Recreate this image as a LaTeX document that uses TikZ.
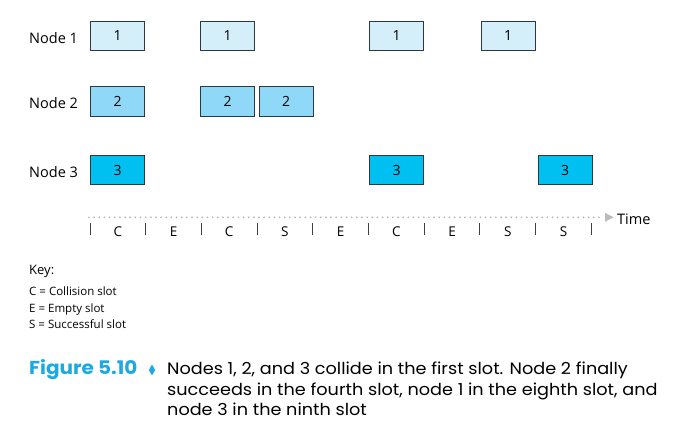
\documentclass[tikz,border=0pt]{standalone}
\usepackage{fontspec}
\setmainfont{Open Sans}
\newfontfamily\capfont[FakeStretch=1.07]{Poppins}
\usetikzlibrary{positioning,shapes.geometric}
\definecolor{cone}{HTML}{D4EEFA}
\definecolor{ctwo}{HTML}{8FD8F7}
\definecolor{cthree}{HTML}{00BFF1}
\definecolor{capblue}{HTML}{1CA9E1}
\definecolor{boxline}{HTML}{2A3A40}
\definecolor{dotgray}{HTML}{B8BCBE}
\tikzset{
  slotbox/.style={draw=boxline, line width=0.9pt, minimum width=54pt, minimum height=29.5pt, inner sep=0pt, font=\fontsize{14}{16}\selectfont},
  rowlabel/.style={anchor=base west, inner sep=0pt, font=\fontsize{14.5}{17}\selectfont},
  slotlabel/.style={inner sep=0pt, font=\fontsize{13.5}{15}\selectfont},
  tickline/.style={draw=black!75, line width=0.9pt},
  keytext/.style={anchor=base west, inner sep=0pt, font=\fontsize{11.5}{13}\selectfont},
  captext/.style={anchor=base west, inner sep=0pt, font=\capfont\fontsize{16.5}{20}\selectfont}
}
\begin{document}
\begin{tikzpicture}[x=1pt,y=-1pt]
\useasboundingbox (0,0) rectangle (696,436);
\def\sw{55.7}
% row labels
\node[rowlabel] (n1) at (29,43.3) {Node 1};
\node[rowlabel] (n2) at (29,108.6) {Node 2};
\node[rowlabel] (n3) at (29,177.3) {Node 3};
% node 1 boxes: slots 1,3,6,8
\foreach \s/\x in {1/117.6,3/227.6,6/396.6,8/508} {
  \node[slotbox, fill=cone] (a\s) at (\x,35.9) {1};
}
% node 2 boxes: slots 1,3,4
\foreach \s/\x in {1/117.6,3/227.6,4/286} {
  \node[slotbox, fill=ctwo] (b\s) at (\x,101.3) {2};
}
% node 3 boxes: slots 1,6,9
\foreach \s/\x in {1/117.6,6/396.6,9/565.2} {
  \node[slotbox, fill=cthree] (c\s) at (\x,170) {3};
}
% time axis
\coordinate (axs) at (89,217.3);
\coordinate (axe) at (603,217.3);
\draw[dotgray, line width=2.1pt, line cap=round, dash pattern=on 0pt off 5.15pt] (axs) -- (axe);
\fill[dotgray] (605,212.8) -- (613.5,217.3) -- (605,221.8) -- cycle;
\node[anchor=base west, inner sep=0pt, font=\fontsize{14.5}{17}\selectfont] (time) at (617,224) {Time};
% ticks
\foreach \i in {0,...,9} {
  \coordinate (tt\i) at ({90+\sw*\i},223);
  \coordinate (tb\i) at ({90+\sw*\i},235);
  \draw[tickline] (tt\i) -- (tb\i);
}
% slot labels
\foreach \l [count=\i] in {C,E,C,S,E,C,E,S,S} {
  \node[slotlabel, anchor=base] (l\i) at ({90+\sw*(\i-0.5)},236) {\l};
}
% key
\node[anchor=base west, inner sep=0pt, font=\fontsize{13}{15}\selectfont] (key) at (29,274) {Key:};
\node[keytext] (k1) at (29,295) {C = Collision slot};
\node[keytext] (k2) at (29,312) {E = Empty slot};
\node[keytext] (k3) at (29,328.7) {S = Successful slot};
% caption
\node[anchor=base west, inner sep=0pt, text=capblue, font=\capfont\bfseries\fontsize{18.7}{20}\selectfont] (fig) at (29,374.5) {Figure 5.10};
\node[fill=capblue, inner sep=0pt, minimum width=6.5pt, minimum height=11pt, diamond] (dia) at (152,370) {};
\node[captext] (cap1) at (167,374.5) {Nodes 1, 2, and 3 collide in the first slot. Node 2 finally};
\node[captext] (cap2) at (167,395) {succeeds in the fourth slot, node 1 in the eighth slot, and};
\node[captext] (cap3) at (167,415.5) {node 3 in the ninth slot};
\end{tikzpicture}
\end{document}
